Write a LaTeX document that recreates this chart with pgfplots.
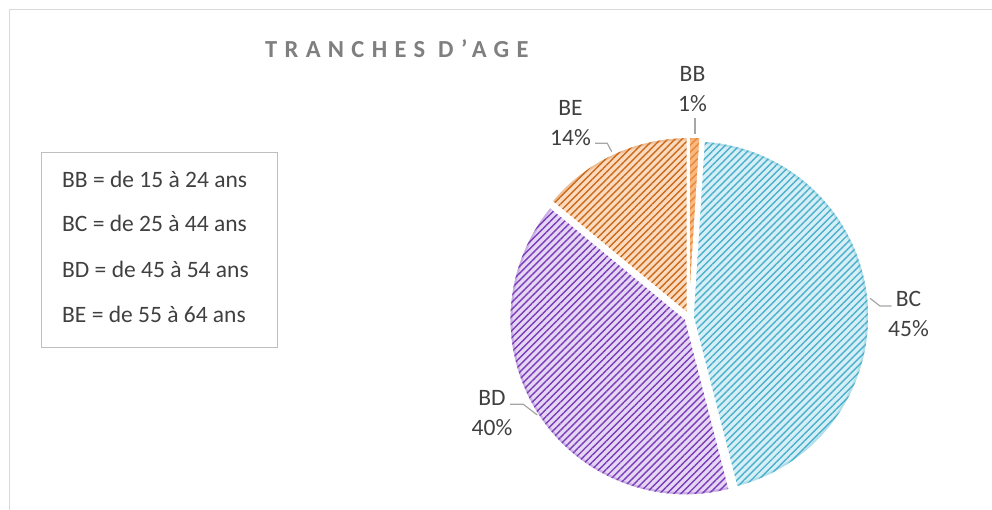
\documentclass[border=0pt]{standalone}
\usepackage{pgfplots}
\pgfplotsset{compat=1.18}
\usepackage{pgfplotstable}
\usepackage{fontspec}
\setmainfont{Carlito}
\usetikzlibrary{patterns.meta,calc}

\definecolor{bcfill}{HTML}{D6EFF6}
\definecolor{bcline}{HTML}{4BB0CB}
\definecolor{bdfill}{HTML}{E5D6F4}
\definecolor{bdline}{HTML}{7A3CB8}
\definecolor{befill}{HTML}{FBDBC0}
\definecolor{beline}{HTML}{CB6A1A}
\definecolor{bbfill}{HTML}{F8B880}
\definecolor{bbline}{HTML}{E8893A}
\definecolor{txt}{HTML}{404040}
\definecolor{ttl}{HTML}{7F7F7F}
\definecolor{framec}{HTML}{D9D9D9}
\definecolor{boxline}{HTML}{BFBFBF}
\definecolor{leader}{HTML}{A6A6A6}

\pgfplotstableread{
name value
BB 1
BC 45
BD 40
BE 14
}\agedata

\newcommand\lfont{\fontsize{23.5bp}{28bp}\selectfont}

% #1 start angle, #2 end angle, #3 fill colour, #4 stripe colour
\newcommand\slice[4]{%
  \pgfmathsetmacro\sa{#1}%
  \pgfmathsetmacro\se{#2}%
  \pgfmathsetmacro\sm{(\sa+\se)/2}%
  \coordinate (O) at ($(axis cs:689,317)+(\sm:4bp)$);
  \fill[#3] (O) -- ++(\sa:176bp) arc[start angle=\sa, end angle=\se, radius=176bp] -- cycle;
  \fill[pattern={Lines[angle=45,distance=5bp,line width=1.4bp]}, pattern color=#4]
    (O) -- ++(\sa:176bp) arc[start angle=\sa, end angle=\se, radius=176bp] -- cycle;
  \draw[#4, line width=3bp, opacity=0.25]
    ($(O)+(\sa:174.5bp)$) arc[start angle=\sa, end angle=\se, radius=174.5bp];
  \draw[white, line width=1.5bp, line join=round]
    (O) -- ++(\sa:176bp) arc[start angle=\sa, end angle=\se, radius=176bp] -- cycle;
}

\begin{document}
\begin{tikzpicture}
\useasboundingbox (0,0) rectangle (992bp,510bp);
\begin{axis}[at={(0,0)}, anchor=south west, scale only axis,
  width=992bp, height=510bp, xmin=0, xmax=992, ymin=0, ymax=510,
  y dir=reverse, hide axis, clip=false]
\pgfplotsextra{
  % chart frame
  \draw[framec, line width=1bp] (axis cs:9.3,515) -- (axis cs:9.3,9) -- (axis cs:995,9);
  % values
  \pgfplotstablegetelem{0}{value}\of\agedata \pgfmathsetmacro\vBB{\pgfplotsretval}
  \pgfplotstablegetelem{1}{value}\of\agedata \pgfmathsetmacro\vBC{\pgfplotsretval}
  \pgfplotstablegetelem{2}{value}\of\agedata \pgfmathsetmacro\vBD{\pgfplotsretval}
  \pgfplotstablegetelem{3}{value}\of\agedata \pgfmathsetmacro\vBE{\pgfplotsretval}
  \pgfmathsetmacro\aA{90}
  \pgfmathsetmacro\aB{\aA-3.6*\vBB}
  \pgfmathsetmacro\aC{\aB-3.6*\vBC}
  \pgfmathsetmacro\aD{\aC-3.6*\vBD}
  \pgfmathsetmacro\aE{\aD-3.6*\vBE}
  \slice{\aA}{\aB}{bbfill}{bbline}
  \slice{\aB}{\aC}{bcfill}{bcline}
  \slice{\aC}{\aD}{bdfill}{bdline}
  \slice{\aD}{\aE}{befill}{beline}
  % title
  \node[anchor=base west, inner sep=0pt, text=ttl,
    font={\fontsize{24.5bp}{29bp}\bfseries\selectfont\addfontfeature{LetterSpace=30}}]
    at (axis cs:265,57) {TRANCHES D'AGE};
  % text box
  \draw[boxline, line width=1bp] (axis cs:41.7,152) rectangle (axis cs:277,347);
  \node[anchor=base west, inner sep=0pt, text=txt, font=\lfont] at (axis cs:62,187) {BB = de 15 à 24 ans};
  \node[anchor=base west, inner sep=0pt, text=txt, font=\lfont] at (axis cs:62,231.5) {BC = de 25 à 44 ans};
  \node[anchor=base west, inner sep=0pt, text=txt, font=\lfont] at (axis cs:62,277) {BD = de 45 à 54 ans};
  \node[anchor=base west, inner sep=0pt, text=txt, font=\lfont] at (axis cs:62,322) {BE = de 55 à 64 ans};
  % data labels
  \draw[leader, line width=1.2bp] (axis cs:695,118) -- (axis cs:695,134);
  \node[anchor=base, inner sep=0pt, text=txt, font=\lfont] at (axis cs:692.5,81.7) {BB};
  \node[anchor=base, inner sep=0pt, text=txt, font=\lfont] at (axis cs:692.5,111.7) {1\%};
  \draw[leader, line width=1.2bp] (axis cs:870,298.3) -- (axis cs:880,306) -- (axis cs:891.7,306);
  \node[anchor=base, inner sep=0pt, text=txt, font=\lfont] at (axis cs:908.5,306) {BC};
  \node[anchor=base, inner sep=0pt, text=txt, font=\lfont] at (axis cs:908.5,336) {45\%};
  \draw[leader, line width=1.2bp] (axis cs:510,404.3) -- (axis cs:523.3,404.3) -- (axis cs:537.3,415);
  \node[anchor=base, inner sep=0pt, text=txt, font=\lfont] at (axis cs:492,405) {BD};
  \node[anchor=base, inner sep=0pt, text=txt, font=\lfont] at (axis cs:492,435) {40\%};
  \draw[leader, line width=1.2bp] (axis cs:595,143.3) -- (axis cs:607.3,143.3) -- (axis cs:611.7,151.7);
  \node[anchor=base, inner sep=0pt, text=txt, font=\lfont] at (axis cs:570.5,115) {BE};
  \node[anchor=base, inner sep=0pt, text=txt, font=\lfont] at (axis cs:570.5,145) {14\%};
}
\end{axis}
\end{tikzpicture}
\end{document}
